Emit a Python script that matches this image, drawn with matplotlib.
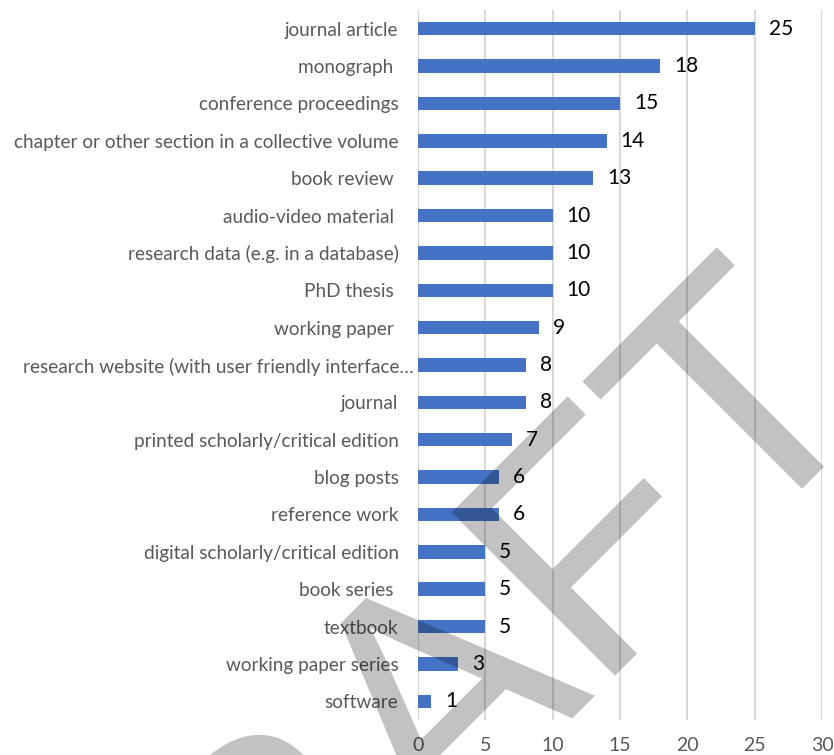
"""Horizontal bar chart of publication types with a DRAFT watermark."""

import matplotlib
matplotlib.use("Agg")
import matplotlib.pyplot as plt
from matplotlib.font_manager import FontProperties
from matplotlib.patches import PathPatch
from matplotlib.textpath import TextPath
from matplotlib.transforms import Affine2D, ScaledTranslation

categories = [
    "journal article",
    "monograph ",
    "conference proceedings",
    "chapter or other section in a collective volume",
    "book review ",
    "audio-video material ",
    "research data (e.g. in a database)",
    "PhD thesis ",
    "working paper ",
    "research website (with user friendly interface\u2026",
    "journal",
    "printed scholarly/critical edition",
    "blog posts",
    "reference work",
    "digital scholarly/critical edition",
    "book series ",
    "textbook",
    "working paper series",
    "software",
]
counts = [25, 18, 15, 14, 13, 10, 10, 10, 9, 8, 8, 7, 6, 6, 5, 5, 5, 3, 1]
x_ticks = [0, 5, 10, 15, 20, 25, 30]

BAR = "#4472C4"
GRID = "#d9d9d9"
LABEL = "#595959"

plt.rcParams["font.family"] = ["Lato", "DejaVu Sans"]

W, H, DPI = 834, 755, 100
fig = plt.figure(figsize=(W / DPI, H / DPI), dpi=DPI)
ax = fig.add_axes([418 / W, 1 - 720 / H, (822 - 418) / W, 710 / H])

ypos = list(range(len(categories)))
ax.barh(ypos, counts, height=0.36, color=BAR, zorder=2)
ax.set_ylim(len(categories) - 0.5, -0.5)
ax.set_xlim(0, 30)

ax.set_yticks(ypos, categories, fontsize=13.7, color=LABEL)
ax.set_xticks(x_ticks, [str(t) for t in x_ticks], fontsize=14, color=LABEL)
ax.tick_params(axis="y", length=0, pad=14)
ax.tick_params(axis="x", length=0, pad=12)
ax.xaxis.grid(True, color=GRID, linewidth=1.5, zorder=0)
for side in ("top", "right", "bottom", "left"):
    ax.spines[side].set_visible(False)

# the clipped label sits closer to the axis
for lab in ax.get_yticklabels():
    if lab.get_text().endswith("\u2026"):
        lab.set_transform(lab.get_transform()
                          + ScaledTranslation(15 / DPI, 0, fig.dpi_scale_trans))

for y, v in zip(ypos, counts):
    ax.annotate(str(v), (v, y), xytext=(10, 0), textcoords="offset points",
                ha="left", va="center", fontsize=15, color="black")

# watermark: outline of the word, rotated 45 deg, laid over the whole figure
tp = TextPath((0, 0), "DRAFT", size=100,
              prop=FontProperties(family="Liberation Sans"))
ext = tp.get_extents()
s = 231 / ext.y1
tr = (Affine2D().translate(-ext.x1, 0).scale(s).rotate_deg(45)
      .translate(880.1, H - 410.6))
mark = PathPatch(tr.transform_path(tp), facecolor="black", edgecolor="none",
                 alpha=0.24, transform=None, zorder=10)
fig.add_artist(mark)

fig.savefig("out.png", dpi=DPI)
